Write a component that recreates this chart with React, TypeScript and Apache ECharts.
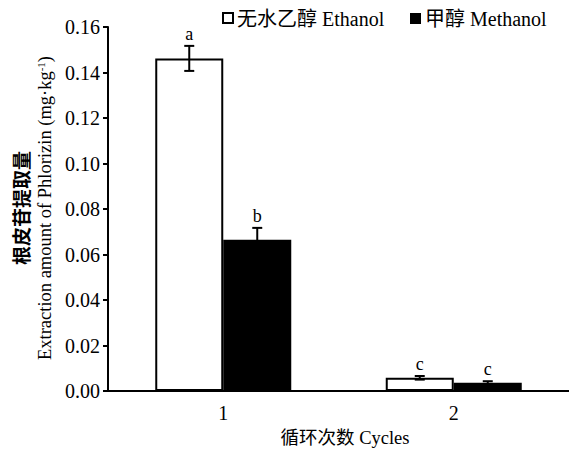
import React, { useEffect, useRef } from "react";
import * as echarts from "echarts";

const categories = ["1", "2"];
const ethanol = [0.1462, 0.0058];
const ethanolErr = [0.0055, 0.0008];
const methanol = [0.0665, 0.0036];
const methanolErr = [0.0052, 0.0007];
const ethanolLetters = ["a", "c"];
const methanolLetters = ["b", "c"];
const yTicks = { min: 0, max: 0.16, interval: 0.02 };

const SERIF = "Liberation Serif";

function errSeries(name: string, vals: number[], errs: number[], letters: string[], offset: number, color: string) {
  return {
    type: "custom",
    name: name + "-err",
    silent: true,
    z: 10,
    data: vals.map((v, i) => [i, v, errs[i]]),
    renderItem: (params: any, api: any) => {
      const i = api.value(0);
      const v = api.value(1);
      const e = api.value(2);
      const base = api.coord([i, v]);
      const x = base[0] + offset;
      const top = api.coord([i, v + e])[1];
      const bot = api.coord([i, v - e])[1];
      const cap = 5;
      const st = { stroke: color, lineWidth: 2 };
      return {
        type: "group",
        children: [
          { type: "line", shape: { x1: x, y1: top, x2: x, y2: bot }, style: st },
          { type: "line", shape: { x1: x - cap, y1: top, x2: x + cap, y2: top }, style: st },
          { type: "line", shape: { x1: x - cap, y1: bot, x2: x + cap, y2: bot }, style: st },
          {
            type: "text",
            x: x,
            y: top - 3,
            style: {
              text: letters[i],
              fill: "#000",
              font: `18px ${SERIF}`,
              align: "center",
              verticalAlign: "bottom",
            },
          },
        ],
      };
    },
  };
}

export default function App() {
  const ref = useRef<HTMLDivElement>(null);
  useEffect(() => {
    if (!ref.current) return;
    const chart = echarts.init(ref.current, null, { renderer: "svg" });
    const barW = 68;
    chart.setOption({
      animation: false,
      textStyle: { fontFamily: SERIF },
      grid: { left: 108, top: 27, bottom: 59, right: -9 },
      xAxis: {
        type: "category",
        data: categories,
        axisLine: { lineStyle: { color: "#000", width: 2 } },
        axisTick: { inside: true, length: 6, lineStyle: { color: "#000", width: 2 } },
        axisLabel: { color: "#000", fontSize: 20, fontFamily: SERIF, margin: 12 },
      },
      yAxis: {
        type: "value",
        min: yTicks.min,
        max: yTicks.max,
        interval: yTicks.interval,
        splitLine: { show: false },
        axisLine: { show: true, lineStyle: { color: "#000", width: 2 } },
        axisTick: { show: true, length: 5, lineStyle: { color: "#000", width: 2 } },
        axisLabel: {
          color: "#000",
          fontSize: 20,
          fontFamily: SERIF,
          margin: 8,
          formatter: (v: number) => v.toFixed(2),
        },
      },
      series: [
        {
          type: "bar",
          name: "ethanol",
          data: ethanol,
          barWidth: barW,
          barGap: "0%",
          itemStyle: { color: "#fff", borderColor: "#000", borderWidth: 2 },
        },
        {
          type: "bar",
          name: "methanol",
          data: methanol,
          barWidth: barW,
          barGap: "0%",
          itemStyle: { color: "#000", borderColor: "#000", borderWidth: 2 },
        },
        errSeries("ethanol", ethanol, ethanolErr, ethanolLetters, -barW / 2, "#000"),
        errSeries("methanol", methanol, methanolErr, methanolLetters, barW / 2, "#000"),
      ],
      graphic: [
        { type: "rect", shape: { x: 223, y: 13, width: 10, height: 10 }, style: { fill: "#fff", stroke: "#000", lineWidth: 2 } },
        {
          type: "text",
          x: 237,
          y: 19,
          style: {
            text: "无水乙醇 Ethanol",
            font: `20px ${SERIF}, Noto Sans CJK SC`,
            fill: "#000",
            verticalAlign: "middle",
          },
        },
        { type: "rect", shape: { x: 410, y: 13, width: 11, height: 11 }, style: { fill: "#000" } },
        {
          type: "text",
          x: 425,
          y: 19,
          style: {
            text: "甲醇 Methanol",
            font: `20px ${SERIF}, Noto Sans CJK SC`,
            fill: "#000",
            verticalAlign: "middle",
          },
        },
        {
          type: "text",
          x: 20,
          y: 208,
          rotation: Math.PI / 2,
          style: {
            text: "根皮苷提取量",
            font: `bold 19px Noto Sans CJK SC, sans-serif`,
            fill: "#000",
            align: "center",
            verticalAlign: "middle",
          },
        },
        {
          type: "text",
          x: 45,
          y: 208,
          rotation: Math.PI / 2,
          style: {
            text: "{n|Extraction amount of Phlorizin (mg·kg}{s|-1}{n|)}",
            align: "center",
            verticalAlign: "middle",
            rich: {
              n: { font: `18.5px ${SERIF}`, fill: "#000", verticalAlign: "bottom" },
              s: { font: `11px ${SERIF}`, fill: "#000", verticalAlign: "top", padding: [0, 0, 8, 0] },
            },
          },
        },
        {
          type: "text",
          x: 345,
          y: 438,
          style: {
            text: "循环次数 Cycles",
            font: `18.5px ${SERIF}, Noto Sans CJK SC`,
            fill: "#000",
            align: "center",
            verticalAlign: "middle",
          },
        },
      ],
    });
    return () => chart.dispose();
  }, []);
  return <div ref={ref} style={{ width: 569, height: 450, position: "absolute", left: 0, top: 0 }} />;
}
